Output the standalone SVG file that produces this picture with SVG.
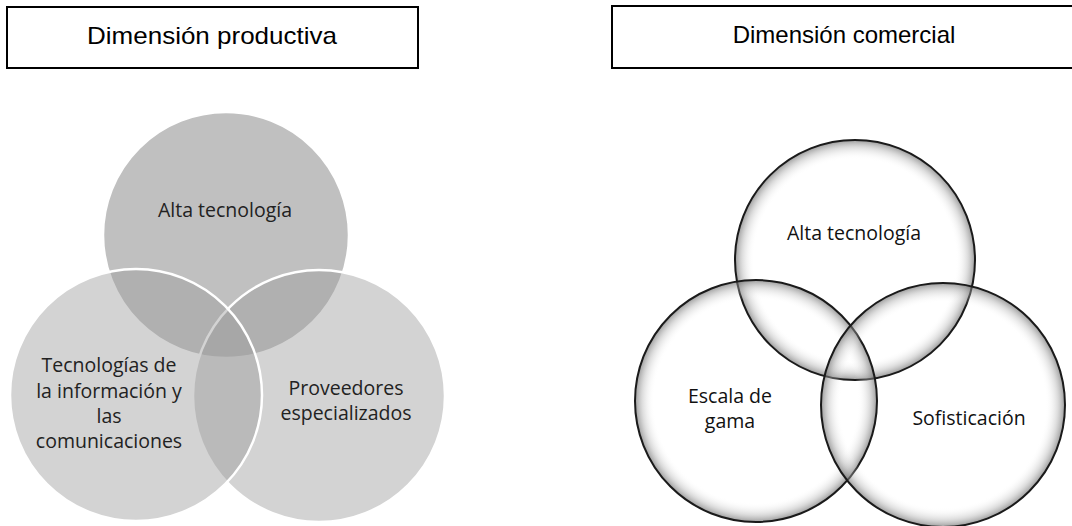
<svg xmlns="http://www.w3.org/2000/svg" width="1072" height="526" viewBox="0 0 1072 526">
  <style>
    .title { font-family: "Liberation Sans", Arial, sans-serif; font-size: 24px; fill: #000; text-anchor: middle; }
    .box { fill: #fff; stroke: #000; stroke-width: 2; }
    .lbl { font-family: "Open Sans", "Noto Sans", sans-serif; font-size: 19.5px; fill: #222; text-anchor: middle; }
    .lbl2 { font-family: "Open Sans", "Noto Sans", sans-serif; font-size: 19.5px; fill: #111; text-anchor: middle; }
    .pTop { fill: #c0c0c0; stroke: #fff; stroke-width: 2.5; }
    .pLow { fill: #9c9c9c; fill-opacity: 0.444; stroke: #fff; stroke-width: 2.5; }
    .glass { fill: url(#glassGrad); stroke: #1a1a1a; stroke-width: 2; }
  </style>
  <defs>
    <radialGradient id="glassGrad" cx="0.5" cy="0.5" r="0.5">
      <stop offset="0" stop-color="#fff" stop-opacity="0"/>
      <stop offset="0.84" stop-color="#fff" stop-opacity="0"/>
      <stop offset="0.94" stop-color="#aaa" stop-opacity="0.4"/>
      <stop offset="1" stop-color="#666" stop-opacity="0.65"/>
    </radialGradient>
  </defs>
  <rect width="1072" height="526" fill="#fff"/>

  <g id="title-productiva">
    <rect class="box" x="7" y="7" width="411" height="61"/>
    <text class="title" x="212" y="44" textLength="250" lengthAdjust="spacingAndGlyphs">Dimensión productiva</text>
  </g>
  <g id="title-comercial">
    <rect class="box" x="612" y="6" width="466" height="62"/>
    <text class="title" x="844" y="43">Dimensión comercial</text>
  </g>

  <g id="productiva-alta">
    <circle class="pTop" cx="226" cy="235" r="123"/>
  </g>
  <g id="productiva-proveedores">
    <circle class="pLow" cx="319" cy="396" r="126"/>
  </g>
  <g id="productiva-tic">
    <circle class="pLow" cx="136" cy="395" r="126"/>
  </g>
  <g id="productiva-labels">
    <text class="lbl" x="225" y="217">Alta tecnología</text>
    <text class="lbl" x="109" y="372">Tecnologías de</text>
    <text class="lbl" x="109" y="398">la información y</text>
    <text class="lbl" x="109" y="423">las</text>
    <text class="lbl" x="109" y="448">comunicaciones</text>
    <text class="lbl" x="346" y="395">Proveedores</text>
    <text class="lbl" x="346" y="420">especializados</text>
  </g>

  <g id="comercial-alta">
    <circle class="glass" cx="855" cy="260" r="120"/>
    <text class="lbl2" x="854" y="240">Alta tecnología</text>
  </g>
  <g id="comercial-escala">
    <circle class="glass" cx="756" cy="401" r="121"/>
    <text class="lbl2" x="730" y="403">Escala de</text>
    <text class="lbl2" x="730" y="428">gama</text>
  </g>
  <g id="comercial-sofisticacion">
    <circle class="glass" cx="943" cy="405" r="122"/>
    <text class="lbl2" x="969" y="425">Sofisticación</text>
  </g>
  <g id="connectors"></g>
</svg>
